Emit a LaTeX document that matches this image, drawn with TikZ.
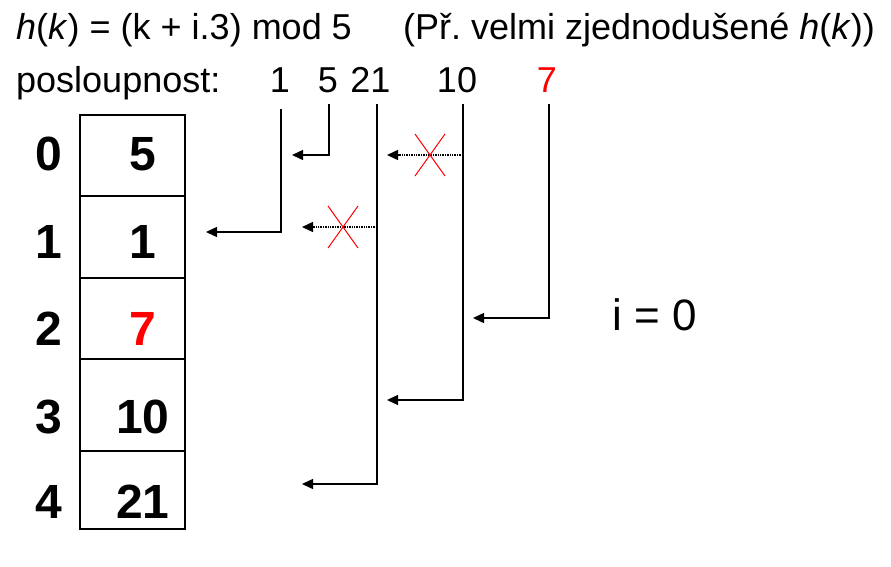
\documentclass[tikz,border=0pt]{standalone}
\usepackage{fontspec}
\setmainfont{Liberation Sans}
\usepackage{tikz}
\usetikzlibrary{arrows.meta,positioning,shapes.misc}
\definecolor{hred}{rgb}{1,0,0}
\frenchspacing

\begin{document}
\begin{tikzpicture}[x=1pt,y=-1pt]

\tikzset{cellnode/.style={draw,line width=1.5pt,minimum width=105pt,inner sep=0pt,shape=rectangle},
bignum/.style={font=\fontsize{48}{56}\selectfont\bfseries,inner sep=0pt,anchor=base},
seqnum/.style={font=\fontsize{36}{42}\selectfont,inner sep=0pt,anchor=base},
arr/.style={line width=1.4pt,-{Triangle[length=11pt,width=10pt]}},
crossnode/.style={shape=cross out,draw=hred,line width=1pt,minimum width=29pt,minimum height=41pt,inner sep=0pt}}

\useasboundingbox (0,0) rectangle (891,566);

% Header
\node[seqnum,anchor=base west] (title) at (16,39) {\textit{h}(\textit{k}) = (k + i.3) mod 5};
\node[seqnum,anchor=base west] (note) at (403,39) {(Př. velmi zjednodušené \textit{h}(\textit{k}))};
\node[seqnum,anchor=base west] (seq) at (16,92) {posloupnost:};

% Sequence
\node[seqnum] (n1) at (280,92) {1};
\node[seqnum] (n5) at (328,92) {5};
\node[seqnum] (n21) at (370.5,92) {21};
\node[seqnum] (n10) at (457,92) {10};
\node[seqnum,text=hred] (n7) at (547,92) {7};

% Table cells
\node[cellnode,minimum height=81pt] (c0) at (132.5,155.5) {};
\node[cellnode,minimum height=82pt] (c1) at (132.5,237) {};
\node[cellnode,minimum height=81pt] (c2) at (132.5,318.5) {};
\node[cellnode,minimum height=92pt] (c3) at (132.5,405) {};
\node[cellnode,minimum height=78pt] (c4) at (132.5,490) {};

% Indices and values
\foreach \i/\y/\v in {0/170/5, 1/258/1, 3/433/10, 4/518/21} {
  \node[bignum] (i\i) at (49,\y) {\i};
  \node[bignum] (v\i) at (143,\y) {\v};
}
\node[bignum] (i2) at (49,345) {2};
\node[bignum,text=hred] (v2) at (143,345) {7};

% Line ends
\coordinate (t1) at (281,109); \coordinate (e1) at (206,232);
\coordinate (t5) at (329,104); \coordinate (e5) at (292,155);
\coordinate (t21) at (377,104); \coordinate (e21) at (302,484);
\coordinate (t10) at (463,104); \coordinate (e10) at (387,400);
\coordinate (t7) at (549,104); \coordinate (e7) at (473,318);
\coordinate (d21) at (377,227); \coordinate (f21) at (302,227);
\coordinate (d10) at (463,155); \coordinate (f10) at (387,155);

% Edges
\draw[arr] (t1) |- (e1); \draw[arr] (t5) |- (e5); \draw[arr] (t21) |- (e21);
\draw[arr] (t10) |- (e10); \draw[arr] (t7) |- (e7);
\draw[arr,densely dotted] (d21) -- (f21); \draw[arr,densely dotted] (d10) -- (f10);

% Collisions
\node[crossnode] (x21) at (343,227) {};
\node[crossnode] (x10) at (430,155) {};

\node[font=\fontsize{44}{52}\selectfont,inner sep=0pt,anchor=base] (istep) at (655,330) {i = 0};

\end{tikzpicture}
\end{document}
